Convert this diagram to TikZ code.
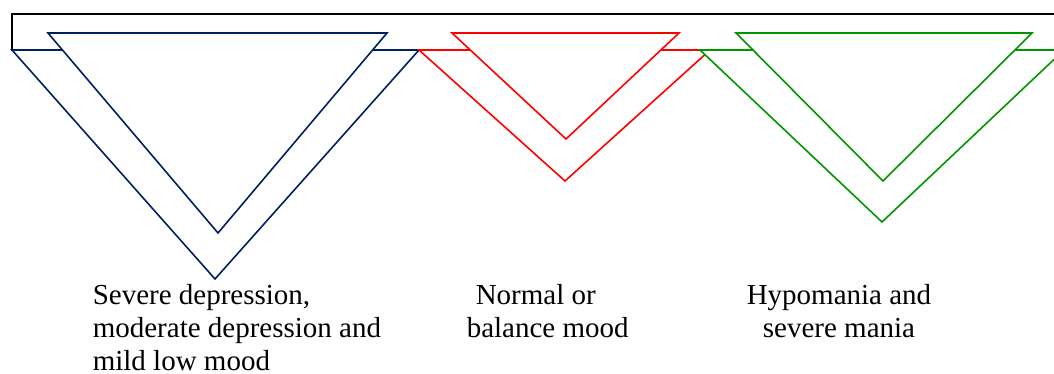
\documentclass[tikz,border=0pt]{standalone}
\usepackage{fontspec}
\setmainfont{Liberation Serif}
\definecolor{moodnavy}{RGB}{0,32,96}
\definecolor{moodred}{RGB}{255,0,0}
\definecolor{moodgreen}{RGB}{0,150,0}

\begin{document}
\begin{tikzpicture}[x=0.5pt, y=-0.5pt, line width=0.8pt,
    tri/.style={fill=white, line join=miter},
    lbl/.style={font=\fontsize{14.5}{16.5}\selectfont, inner sep=0pt}]
    \useasboundingbox (0,0) rectangle (1054,374);
    \clip (0,0) rectangle (1054,374);
    % frame at the top
    \draw[black, line width=1pt] (12,14) rectangle (1080,50);
    % low mood
    \draw[moodnavy, tri] (12,50) -- (419,50) -- (215,279) -- cycle;
    \draw[moodnavy, tri] (48,33) -- (387,33) -- (218,233) -- cycle;
    % normal mood
    \draw[moodred, tri] (419,50) -- (710,50) -- (565,181) -- cycle;
    \draw[moodred, tri] (452,33) -- (679,33) -- (566,139) -- cycle;
    % high mood
    \draw[moodgreen, tri] (700,50) -- (1064,50) -- (882,222) -- cycle;
    \draw[moodgreen, tri] (736,33) -- (1032,33) -- (883,181) -- cycle;
    % labels
    \node[lbl, anchor=north west, align=left] (low) at (92,284)
        {Severe depression,\\moderate depression and\\mild low mood};
    \node[lbl, anchor=north west, align=left] (normal) at (466,284)
        {\hspace{4.5pt}Normal or\\balance mood};
    \node[lbl, anchor=north, align=center] (high) at (839,284)
        {Hypomania and\\severe mania};
\end{tikzpicture}
\end{document}
